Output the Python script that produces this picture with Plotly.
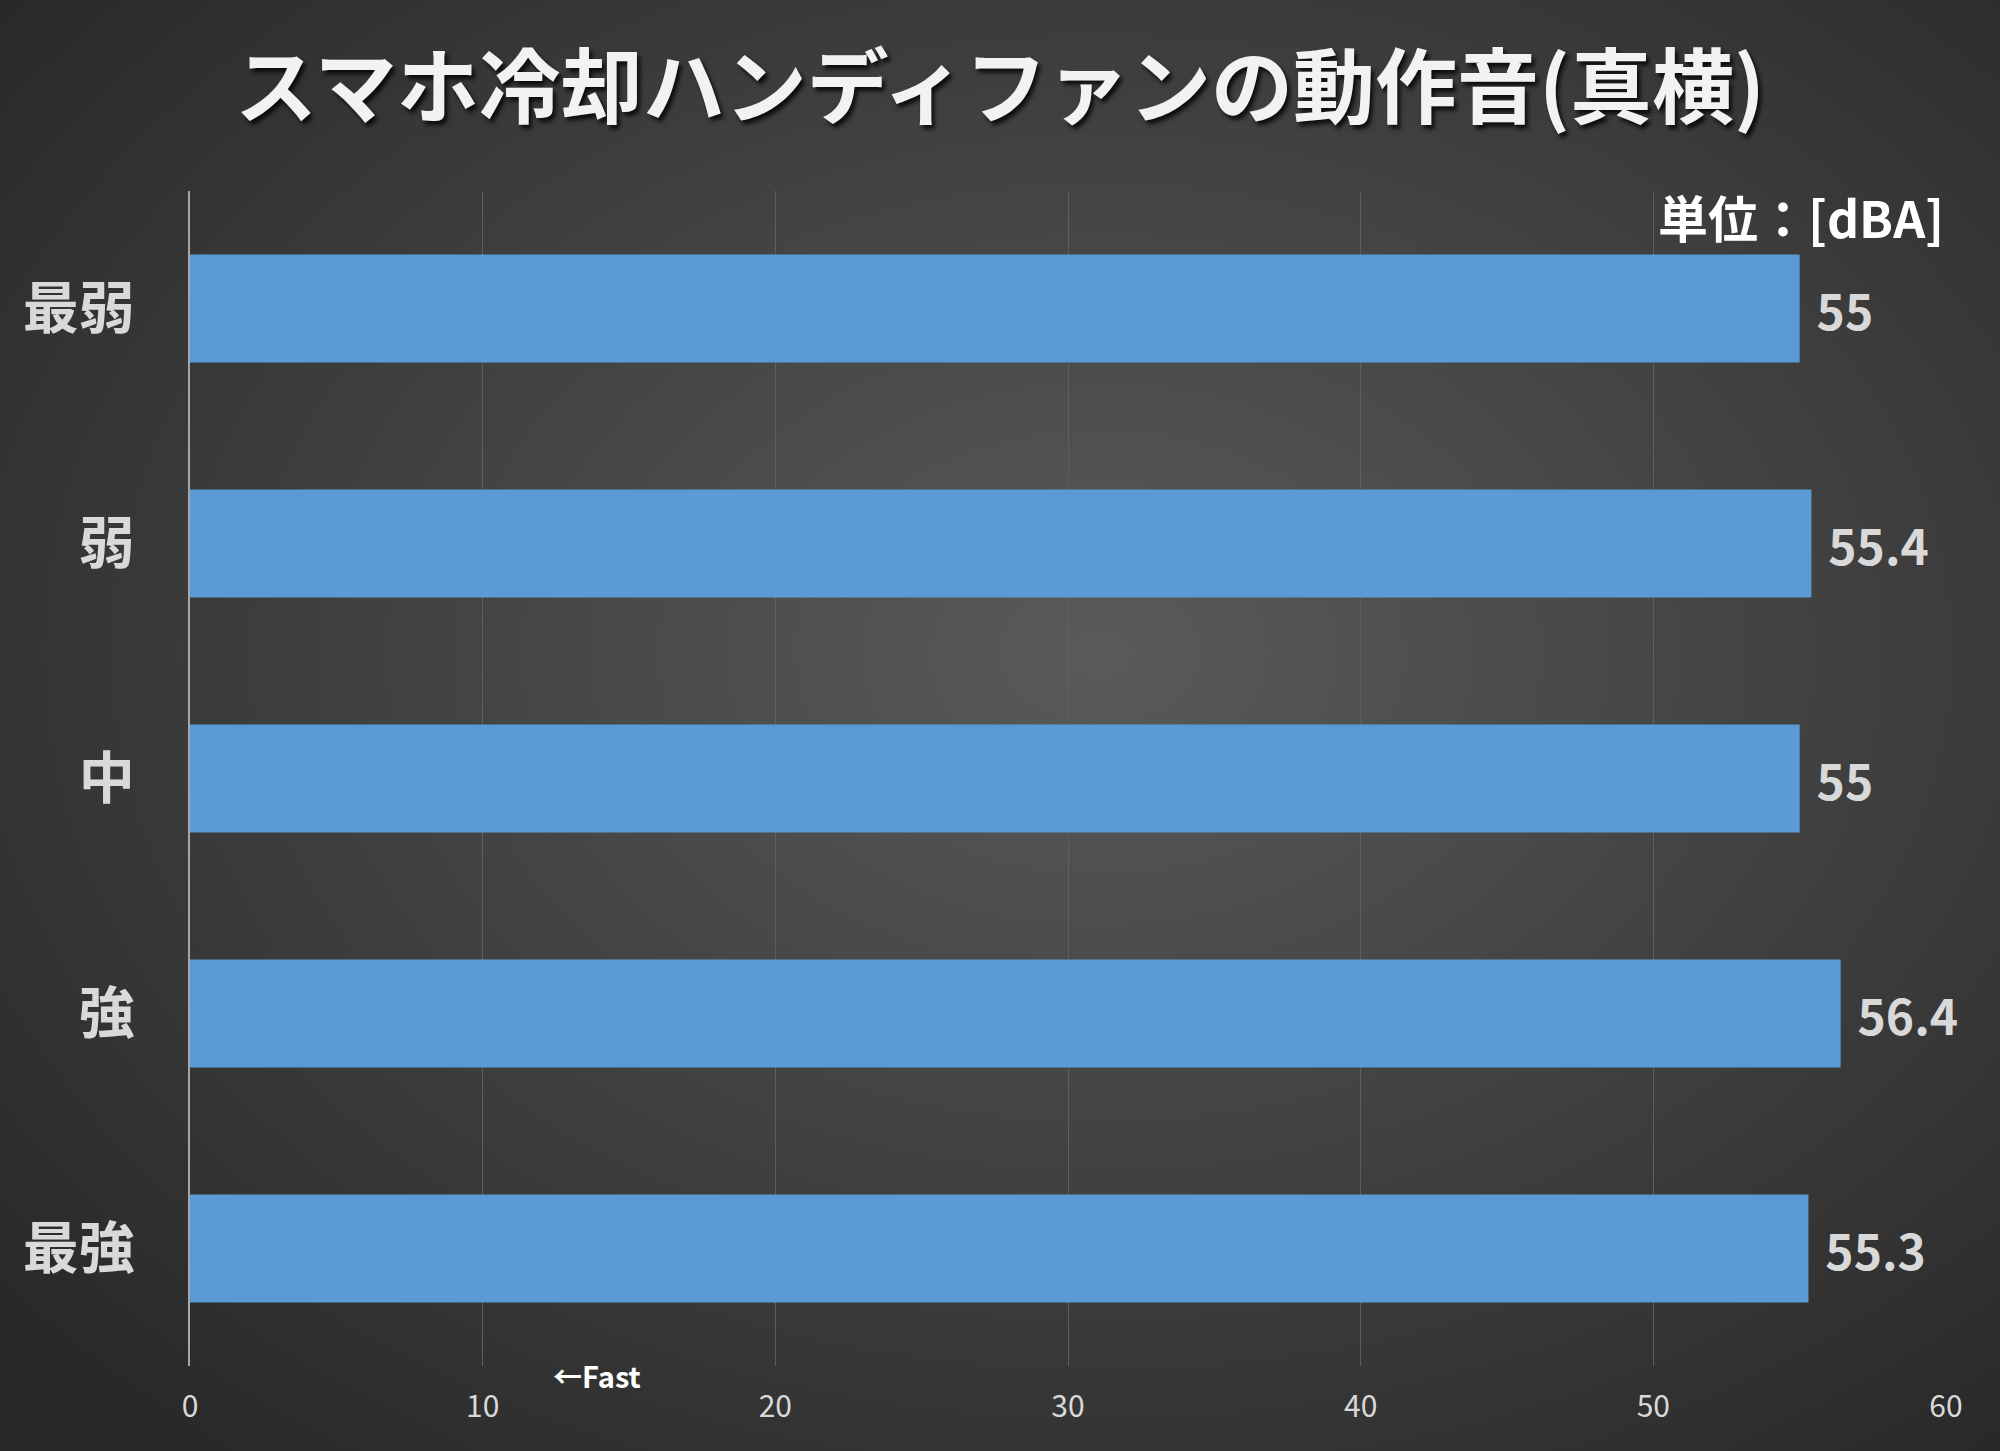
import base64
import plotly.graph_objects as go

# data
modes = ["最弱", "弱", "中", "強", "最強"]
noise_dba = [55, 55.4, 55, 56.4, 55.3]
x_ticks = [0, 10, 20, 30, 40, 50, 60]

W, H = 2000, 1451
ml, mr, mt, mb = 190, 54, 191, 85
pw, ph = W - ml - mr, H - mt - mb
FONT = "Noto Sans CJK JP"

# radial gradient background as svg
svg = (
    f'<svg xmlns="http://www.w3.org/2000/svg" width="{W}" height="{H}">'
    '<defs><radialGradient id="g" cx="0.55" cy="0.45" r="0.72">'
    '<stop offset="0" stop-color="#5a5a5a"/>'
    '<stop offset="1" stop-color="#282828"/>'
    '</radialGradient></defs>'
    f'<rect width="{W}" height="{H}" fill="url(#g)"/></svg>'
)
bg_src = "data:image/svg+xml;base64," + base64.b64encode(svg.encode()).decode()

fig = go.Figure(
    go.Bar(
        x=noise_dba,
        y=modes,
        orientation="h",
        marker=dict(color="#5B9BD5", line=dict(width=0)),
        text=["\u00a0\u200a" + f"{v:g}" for v in noise_dba],
        textposition="outside",
        textfont=dict(family=FONT, size=48, color="#d9d9d9", weight="bold"),
        cliponaxis=False,
    )
)

fig.update_layout(
    width=W,
    height=H,
    margin=dict(l=ml, r=mr, t=mt, b=mb, pad=0),
    paper_bgcolor="#333333",
    plot_bgcolor="rgba(0,0,0,0)",
    bargap=0.54,
    showlegend=False,
    title=dict(
        text="スマホ冷却ハンディファンの動作音(真横)",
        x=0.5,
        xanchor="center",
        y=1 - 88 / H,
        yanchor="middle",
        font=dict(family=FONT, size=82, color="#f2f2f2", weight="bold",
                  shadow="3px 4px 4px rgba(0,0,0,0.8)"),
    ),
    images=[
        dict(
            source=bg_src,
            xref="paper", yref="paper",
            x=-ml / pw, y=1 + mt / ph,
            sizex=W / pw, sizey=H / ph,
            xanchor="left", yanchor="top",
            sizing="stretch",
            layer="below",
        )
    ],
    annotations=[
        dict(
            text="単位：[dBA]",
            xref="paper", yref="paper",
            x=1, y=1 - 25 / ph,
            xanchor="right", yanchor="middle",
            showarrow=False,
            font=dict(family=FONT, size=50, color="#ffffff", weight="bold"),
        ),
        dict(
            text="←Fast",
            xref="paper", yref="paper",
            x=(551 - ml) / pw, y=-9 / ph,
            xanchor="left", yanchor="middle",
            showarrow=False,
            font=dict(family=FONT, size=29, color="#ffffff", weight="bold"),
        ),
    ],
)

fig.update_xaxes(
    range=[0, 60],
    tickvals=x_ticks,
    showgrid=True,
    gridcolor="#5e5e5e",
    gridwidth=1,
    zeroline=False,
    showline=False,
    ticks="",
    ticklabelstandoff=20,
    tickfont=dict(family=FONT, size=30, color="#d9d9d9"),
)

fig.update_yaxes(
    autorange="reversed",
    showgrid=False,
    zeroline=False,
    showline=True,
    linecolor="#a6a6a6",
    linewidth=2,
    ticks="",
    ticklabelstandoff=42,
    tickfont=dict(family=FONT, size=56, color="#d9d9d9", weight="bold"),
)

fig.write_html(
    "out.html",
    config={"displayModeBar": False},
    post_script="document.body.style.margin='0';",
)
